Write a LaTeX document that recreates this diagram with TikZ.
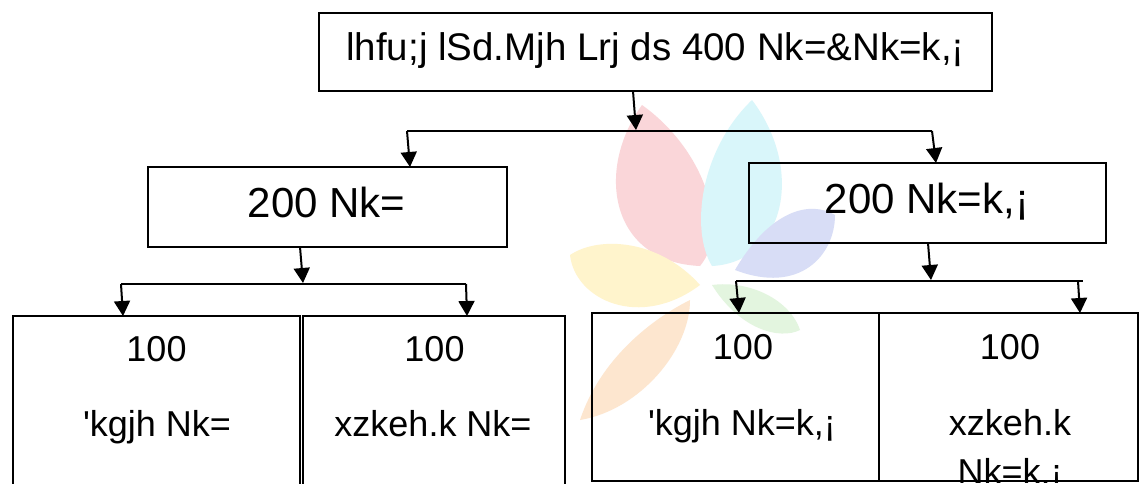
\documentclass[tikz,border=0pt]{standalone}
\usepackage{fontspec}
\setmainfont{Liberation Sans}[Ligatures=TeXOff]
\usetikzlibrary{arrows.meta}
\definecolor{wpink}{HTML}{FAD6D9}
\definecolor{wcyan}{HTML}{D9F6FA}
\definecolor{wblue}{HTML}{D8DDF6}
\definecolor{wyellow}{HTML}{FFF4CC}
\definecolor{worange}{HTML}{FDE6CF}
\definecolor{wgreen}{HTML}{E3F5DF}
\begin{document}
\begin{tikzpicture}[x=1pt,y=-1pt,
  box/.style={draw=black,line width=2.2pt,rectangle,inner sep=0pt,outer sep=0pt},
  ln/.style={draw=black,line width=2pt},
  arr/.style={draw=black,line width=2pt,-{Triangle[length=15pt,width=16pt]}},
  tbig/.style={anchor=base,inner sep=0pt,font=\fontsize{38.5}{46}\selectfont},
  tmid/.style={anchor=base,inner sep=0pt,font=\fontsize{42}{50}\selectfont},
  tsmall/.style={anchor=base,inner sep=0pt,font=\fontsize{36}{44}\selectfont}]
\useasboundingbox (0,0) rectangle (1142,483);
\clip (0,0) rectangle (1142,483);
\fill[white] (0,0) rectangle (1142,483);

% faint watermark petals
\fill[wpink] (642,105) .. controls (595,170) and (610,262) .. (700,266) .. controls (730,230) and (705,150) .. (642,105);
\fill[wcyan] (752,100) .. controls (700,150) and (690,230) .. (712,266) .. controls (785,262) and (805,170) .. (752,100);
\fill[wblue] (735,270) .. controls (770,210) and (810,200) .. (835,215) .. controls (835,255) and (800,295) .. (735,270);
\fill[wyellow] (700,285) .. controls (660,240) and (600,235) .. (570,255) .. controls (575,300) and (640,330) .. (700,285);
\fill[worange] (690,300) .. controls (650,320) and (600,360) .. (580,420) .. controls (640,410) and (690,350) .. (690,300);
\fill[wgreen] (712,285) .. controls (740,330) and (780,340) .. (800,330) .. controls (790,300) and (750,280) .. (712,285);

% boxes
\node[box,minimum width=673pt,minimum height=78pt] (top) at (655.5,52) {};
\node[box,minimum width=359pt,minimum height=80pt] (ml) at (327.5,207) {};
\node[box,minimum width=357pt,minimum height=80pt] (mr) at (927.5,203) {};
\node[box,minimum width=287pt,minimum height=204pt] (b1) at (156.5,418) {};
\node[box,minimum width=262pt,minimum height=204pt] (b2) at (434,418) {};
\node[box,minimum width=287pt,minimum height=168pt] (b3) at (735.5,397) {};
\node[box,minimum width=259pt,minimum height=168pt] (b4) at (1008.5,397) {};

% texts
\node[tbig] (t0) at (655.5,60) {lhfu;j lSd.Mjh Lrj ds 400 Nk=\&Nk=k,¡};
\node[tmid] (tml) at (326.5,217) {200 Nk=};
\node[tmid] (tmr) at (927,213) {200 Nk=k,¡};
\node[tsmall] (b1a) at (156.5,361.5) {100};
\node[tsmall] (b1b) at (157,436.5) {'kgjh Nk=};
\node[tsmall] (b2a) at (434.5,361.5) {100};
\node[tsmall] (b2b) at (433,436.5) {xzkeh.k Nk=};
\node[tsmall] (b3a) at (743,359) {100};
\node[tsmall] (b3b) at (742,435) {'kgjh Nk=k,¡};
\node[tsmall] (b4a) at (1010,359) {100};
\node[tsmall] (b4b) at (1010,435) {xzkeh.k};
\begin{scope}
  \clip (b4.north west) rectangle ([yshift=-1pt]b4.south east);
  \node[tsmall] (b4c) at (1010,484) {Nk=k,¡};
\end{scope}

% bus coordinates
\coordinate (bus0m) at (636,130);
\coordinate (bus0L) at (407,131);
\coordinate (bus0R) at (932,131);
\coordinate (bus1m) at (303,283);
\coordinate (bus1L) at (121,284);
\coordinate (bus1R) at (466,284);
\coordinate (bus2m) at (931,280);
\coordinate (bus2L) at (736,281);
\coordinate (bus2R) at (1083,281);
\coordinate (bus2a) at (1078,281);

% level 0 -> 1
\draw[arr] (633,0 |- top.south) -- (bus0m);
\draw[ln] (bus0L) -- (bus0R);
\draw[arr] (bus0L) -- (410,0 |- ml.north);
\draw[arr] (bus0R) -- (936,0 |- mr.north);

% left branch
\draw[arr] (300,0 |- ml.south) -- (bus1m);
\draw[ln] (bus1L) -- (bus1R);
\draw[arr] (bus1L) -- (123,0 |- b1.north);
\draw[arr] (bus1R) -- (467,0 |- b2.north);

% right branch
\draw[arr] (928,0 |- mr.south) -- (bus2m);
\draw[ln] (bus2L) -- (bus2R);
\draw[arr] (bus2L) -- (739,0 |- b3.north);
\draw[arr] (bus2a) -- (1080,0 |- b4.north);
\end{tikzpicture}
\end{document}
